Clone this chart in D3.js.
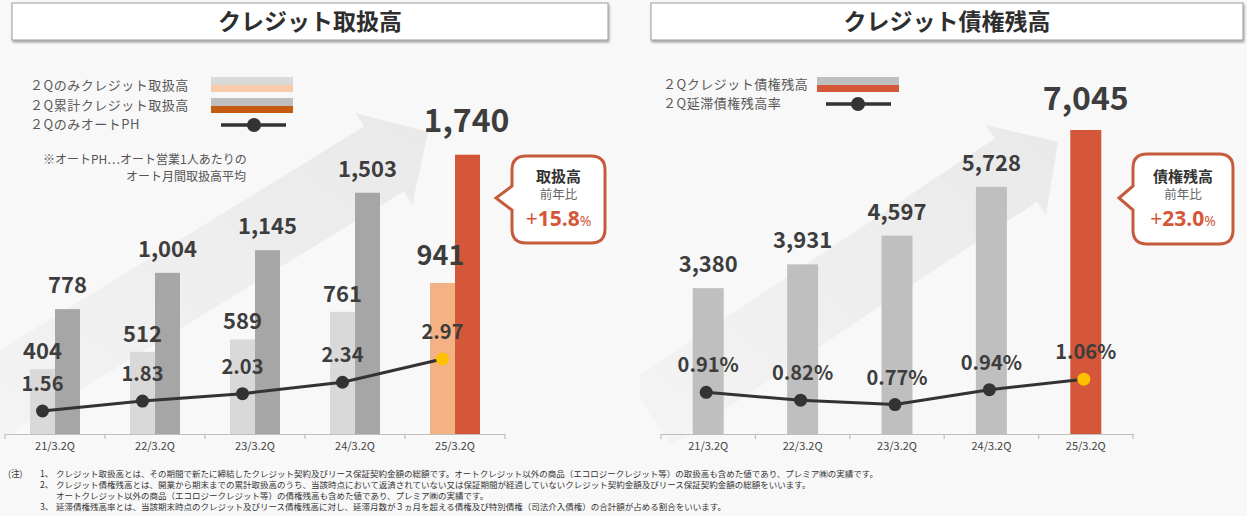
<!DOCTYPE html>
<html><head><meta charset="utf-8">
<script src="https://cdn.jsdelivr.net/npm/d3@7"></script>
<style>
body{margin:0;background:#f8f8f8}
svg{display:block}
text{font-family:"Noto Sans CJK JP","Noto Sans",sans-serif}
</style>
</head><body>
<svg id="c" width="1247" height="516"></svg>
<script>
// ---- data ----
const categories = ["21/3.2Q","22/3.2Q","23/3.2Q","24/3.2Q","25/3.2Q"];
const volumeQ2Only = [404,512,589,761,941];
const volumeQ2Cumulative = [778,1004,1145,1503,1740];
const autoPH = [1.56,1.83,2.03,2.34,2.97];
const receivables = [3380,3931,4597,5728,7045];
const delinquencyRate = [0.91,0.82,0.77,0.94,1.06];
const titles = ["クレジット取扱高","クレジット債権残高"];
const leftLegend = ["２Qのみクレジット取扱高","２Q累計クレジット取扱高","２QのみオートPH"];
const rightLegend = ["２Qクレジット債権残高","２Q延滞債権残高率"];
const leftNote = ["※オートPH…オート営業1人あたりの","オート月間取扱高平均"];
const leftCallout = ["取扱高","前年比","+15.8","%"];
const rightCallout = ["債権残高","前年比","+23.0","%"];
const footnotes = [
  ["(注)","1、","クレジット取扱高とは、その期間で新たに締結したクレジット契約及びリース保証契約金額の総額です。オートクレジット以外の商品（エコロジークレジット等）の取扱高も含めた値であり、プレミア㈱の実績です。"],
  ["","2、","クレジット債権残高とは、開業から期末までの累計取扱高のうち、当該時点において返済されていない又は保証期間が経過していないクレジット契約金額及びリース保証契約金額の総額をいいます。"],
  ["","","オートクレジット以外の商品（エコロジークレジット等）の債権残高も含めた値であり、プレミア㈱の実績です。"],
  ["","3、","延滞債権残高率とは、当該期末時点のクレジット及びリース債権残高に対し、延滞月数が３ヵ月を超える債権及び特別債権（司法介入債権）の合計額が占める割合をいいます。"]
];

const svg = d3.select("#c");
const fmt = d3.format(",");
const LABEL = "#3d3d3d";
const RED = "#d4573a";

const defs = svg.append("defs");
const sh = defs.append("filter").attr("id","sh").attr("x","-5%").attr("y","-20%").attr("width","110%").attr("height","160%");
sh.append("feDropShadow").attr("dx",1).attr("dy",2).attr("stdDeviation",1).attr("flood-color","#000").attr("flood-opacity",0.35);
const gr = defs.append("linearGradient").attr("id","ag").attr("x1","0").attr("y1","1").attr("x2","1").attr("y2","0");
gr.append("stop").attr("offset","0").attr("stop-color","#f4f4f4");
gr.append("stop").attr("offset","1").attr("stop-color","#e9e9e9");
defs.append("clipPath").attr("id","clipR").append("rect").attr("x",640).attr("y",0).attr("width",607).attr("height",460);
defs.append("clipPath").attr("id","clipL").append("rect").attr("x",0).attr("y",0).attr("width",625).attr("height",460);

// ---- background arrows ----
function arrow(tip, baseMid, headHalf, bodyHalf, bodyLen){
  const dx = tip[0]-baseMid[0], dy = tip[1]-baseMid[1];
  const L = Math.hypot(dx,dy); const u=[dx/L,dy/L]; const n=[-u[1],u[0]];
  const p=(b,k,m)=>[b[0]+n[0]*k+u[0]*m, b[1]+n[1]*k+u[1]*m];
  return [tip, p(baseMid,headHalf,0), p(baseMid,bodyHalf,0), p(baseMid,bodyHalf,-bodyLen),
          p(baseMid,-bodyHalf,-bodyLen), p(baseMid,-bodyHalf,0), p(baseMid,-headHalf,0)];
}
svg.append("polygon").attr("clip-path","url(#clipL)")
  .attr("points", arrow([428,132],[384,159],54,38,480).join(" ")).attr("fill","url(#ag)");
svg.append("polygon").attr("clip-path","url(#clipR)")
  .attr("points", arrow([1058,142],[1016,170],54,38,440).join(" ")).attr("fill","url(#ag)");

// ---- titles ----
[[12,596],[651,592]].forEach((b,i)=>{
  svg.append("rect").attr("x",b[0]).attr("y",3).attr("width",b[1]).attr("height",37)
    .attr("fill","#fff").attr("stroke","#9a9a9a").attr("stroke-width",1).attr("filter","url(#sh)");
  svg.append("text").attr("x",b[0]+b[1]/2).attr("y",30).attr("text-anchor","middle")
    .attr("font-size",23).attr("font-weight",700).attr("fill","#2e2e2e").text(titles[i]);
});

// ---- LEFT CHART ----
const xL = d3.scaleBand().domain(categories).range([5,505]);
const yL = d3.scaleLinear().domain([0,1740]).range([434,154.7]);
const yPH = d3.scaleLinear().domain([1.56,2.97]).range([411,359]);
const bw = 25;
const gL = svg.append("g");
const last = categories.length-1;

gL.selectAll(".b1").data(volumeQ2Only).join("rect")
  .attr("x",(d,i)=>xL(categories[i])+xL.bandwidth()/2-bw).attr("width",bw)
  .attr("y",d=>yL(d)).attr("height",d=>434-yL(d))
  .attr("fill",(d,i)=>i===last?"#f4b183":"#d9d9d9");
gL.selectAll(".b2").data(volumeQ2Cumulative).join("rect")
  .attr("x",(d,i)=>xL(categories[i])+xL.bandwidth()/2).attr("width",bw)
  .attr("y",d=>yL(d)).attr("height",d=>434-yL(d))
  .attr("fill",(d,i)=>i===last?RED:"#a6a6a6");

// axis
const axL = gL.append("g").attr("transform","translate(0,434)")
  .call(d3.axisBottom(xL).tickSize(0).tickPadding(8));
axL.select(".domain").attr("stroke","#bfbfbf").attr("stroke-width",1.2);
axL.selectAll("text").attr("font-size",11).attr("fill","#444").attr("font-family","'Noto Sans CJK JP',sans-serif");
gL.selectAll(".tk").data(categories.map(c=>xL(c)).concat([xL.range()[1]])).join("line")
  .attr("x1",d=>d).attr("x2",d=>d).attr("y1",434).attr("y2",439).attr("stroke","#bfbfbf").attr("stroke-width",1.2);

// bar labels
gL.selectAll(".l1").data(volumeQ2Only).join("text")
  .attr("x",(d,i)=>xL(categories[i])+xL.bandwidth()/2-bw/2+ (i===last?-2:0))
  .attr("y",(d,i)=>yL(d)-(i===last?18:10))
  .attr("text-anchor","middle").attr("font-size",(d,i)=>i===last?27:22).attr("font-weight",700)
  .attr("fill",LABEL).text(d=>fmt(d));
gL.selectAll(".l2").data(volumeQ2Cumulative).join("text")
  .attr("x",(d,i)=>xL(categories[i])+xL.bandwidth()/2+bw/2+(i===last?-1:0))
  .attr("y",(d,i)=>yL(d)-(i===last?23:16))
  .attr("text-anchor","middle").attr("font-size",(d,i)=>i===last?32:22).attr("font-weight",700)
  .attr("fill",LABEL).text(d=>fmt(d));

// PH line
const phX = i=>xL(categories[i])+xL.bandwidth()/2-bw/2;
gL.append("path").datum(autoPH)
  .attr("d",d3.line().x((d,i)=>phX(i)).y(d=>yPH(d)))
  .attr("fill","none").attr("stroke","#333").attr("stroke-width",3);
gL.selectAll(".p").data(autoPH).join("circle")
  .attr("cx",(d,i)=>phX(i)).attr("cy",d=>yPH(d)).attr("r",6.5)
  .attr("fill",(d,i)=>i===last?"#ffc000":"#333");
gL.selectAll(".pl").data(autoPH).join("text")
  .attr("x",(d,i)=>phX(i)).attr("y",d=>yPH(d)-20).attr("text-anchor","middle")
  .attr("font-size",20).attr("font-weight",700).attr("fill",LABEL).text(d=>d.toFixed(2));

// legend left
const lgY = [90,109.5,129];
leftLegend.forEach((t,i)=>{
  svg.append("text").attr("x",30).attr("y",lgY[i]).attr("font-size",13).attr("letter-spacing",0.5)
    .attr("fill","#595959").text(t);
});
svg.append("rect").attr("x",211).attr("y",77).attr("width",82).attr("height",8).attr("fill","#d9d9d9");
svg.append("rect").attr("x",211).attr("y",85).attr("width",82).attr("height",7).attr("fill","#f8cbad");
svg.append("rect").attr("x",211).attr("y",98).attr("width",82).attr("height",8).attr("fill","#bfbfbf");
svg.append("rect").attr("x",211).attr("y",106).attr("width",82).attr("height",7).attr("fill","#c55a11");
svg.append("line").attr("x1",221).attr("x2",286).attr("y1",125).attr("y2",125).attr("stroke","#333").attr("stroke-width",3.5);
svg.append("circle").attr("cx",254).attr("cy",125).attr("r",7).attr("fill","#333");
svg.append("text").attr("x",43).attr("y",164).attr("font-size",12).attr("fill","#555").text(leftNote[0]);
svg.append("text").attr("x",246).attr("y",181).attr("text-anchor","end").attr("font-size",12).attr("fill","#555").text(leftNote[1]);

// callouts
function callout(x0,y0,x1,y1,tx,ty,lines){
  const r=14;
  const d=`M${x0+r},${y0}H${x1-r}Q${x1},${y0} ${x1},${y0+r}V${y1-r}Q${x1},${y1} ${x1-r},${y1}H${x0+r}Q${x0},${y1} ${x0},${y1-r}V${ty+12}L${tx},${ty}L${x0},${ty-12}V${y0+r}Q${x0},${y0} ${x0+r},${y0}Z`;
  svg.append("path").attr("d",d).attr("fill","#fff").attr("stroke","#c65b3c").attr("stroke-width",3);
  const cx=(x0+x1)/2;
  svg.append("text").attr("x",cx).attr("y",182).attr("text-anchor","middle").attr("font-size",15).attr("font-weight",700).attr("fill","#333").text(lines[0]);
  svg.append("text").attr("x",cx).attr("y",199).attr("text-anchor","middle").attr("font-size",12.5).attr("fill","#666").text(lines[1]);
  const t=svg.append("text").attr("x",cx).attr("y",226).attr("text-anchor","middle").attr("fill",RED)
    .style("font-family","'Noto Sans',sans-serif");
  t.append("tspan").attr("font-size",21).attr("font-weight",400).text(lines[2].slice(0,1));
  t.append("tspan").attr("font-size",21).attr("font-weight",700).text(lines[2].slice(1));
  t.append("tspan").attr("font-size",14).attr("font-weight",400).text(lines[3]);
}
callout(512,156,605,243,496,198,leftCallout);

// ---- RIGHT CHART ----
const xR = d3.scaleBand().domain(categories).range([661,1133]);
const yR = d3.scaleLinear().domain([0,7045]).range([434,130]);
const yRate = d3.scaleLinear().domain([0.77,1.06]).range([404.6,379.2]);
const bwR = 31;
const gR = svg.append("g");
gR.selectAll(".rb").data(receivables).join("rect")
  .attr("x",(d,i)=>xR(categories[i])+xR.bandwidth()/2-bwR/2).attr("width",bwR)
  .attr("y",d=>yR(d)).attr("height",d=>434-yR(d))
  .attr("fill",(d,i)=>i===last?RED:"#bfbfbf");
const axR = gR.append("g").attr("transform","translate(0,434)")
  .call(d3.axisBottom(xR).tickSize(0).tickPadding(8));
axR.select(".domain").attr("stroke","#bfbfbf").attr("stroke-width",1.2);
axR.selectAll("text").attr("font-size",11).attr("fill","#444").attr("font-family","'Noto Sans CJK JP',sans-serif");
gR.selectAll(".tk").data(categories.map(c=>xR(c)).concat([xR.range()[1]])).join("line")
  .attr("x1",d=>d).attr("x2",d=>d).attr("y1",434).attr("y2",439).attr("stroke","#bfbfbf").attr("stroke-width",1.2);
gR.selectAll(".rl").data(receivables).join("text")
  .attr("x",(d,i)=>xR(categories[i])+xR.bandwidth()/2)
  .attr("y",(d,i)=>yR(d)-(i===last?20:16))
  .attr("text-anchor","middle").attr("font-size",(d,i)=>i===last?32:22).attr("font-weight",700)
  .attr("fill",LABEL).text(d=>fmt(d));
const rX = i=>xR(categories[i])+xR.bandwidth()/2-2;
gR.append("path").datum(delinquencyRate)
  .attr("d",d3.line().x((d,i)=>rX(i)).y(d=>yRate(d)))
  .attr("fill","none").attr("stroke","#333").attr("stroke-width",3);
gR.selectAll(".rp").data(delinquencyRate).join("circle")
  .attr("cx",(d,i)=>rX(i)).attr("cy",d=>yRate(d)).attr("r",6.5)
  .attr("fill",(d,i)=>i===last?"#ffc000":"#333");
gR.selectAll(".rpl").data(delinquencyRate).join("text")
  .attr("x",(d,i)=>rX(i)+2).attr("y",d=>yRate(d)-20).attr("text-anchor","middle")
  .attr("font-size",20).attr("font-weight",700).attr("fill",LABEL).text(d=>d.toFixed(2)+"%");

rightLegend.forEach((t,i)=>{
  svg.append("text").attr("x",663).attr("y",[89,108][i]).attr("font-size",13).attr("letter-spacing",0.5)
    .attr("fill","#595959").text(t);
});
svg.append("rect").attr("x",817).attr("y",77).attr("width",82).attr("height",8).attr("fill","#bfbfbf");
svg.append("rect").attr("x",817).attr("y",85).attr("width",82).attr("height",7).attr("fill",RED);
svg.append("line").attr("x1",826).attr("x2",891).attr("y1",104).attr("y2",104).attr("stroke","#333").attr("stroke-width",3.5);
svg.append("circle").attr("cx",858).attr("cy",104).attr("r",7).attr("fill","#333");

callout(1133,154,1233,244,1119,198,rightCallout);

// ---- footnotes ----
const fy = [477,488,498.5,509.5];
footnotes.forEach((f,i)=>{
  if(f[0]) svg.append("text").attr("x",8).attr("y",fy[i]).attr("font-size",8.7).attr("fill","#333").text(f[0]);
  if(f[1]) svg.append("text").attr("x",40).attr("y",fy[i]).attr("font-size",8.7).attr("fill","#333").text(f[1]);
  svg.append("text").attr("x",56).attr("y",fy[i]).attr("font-size",8.5).attr("fill","#333").text(f[2]);
});
</script>
</body></html>
